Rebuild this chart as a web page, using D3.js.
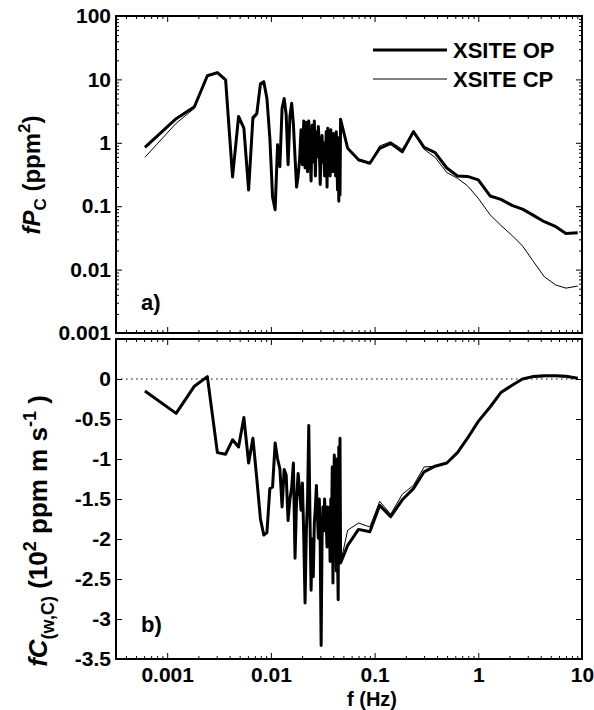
<!DOCTYPE html>
<html>
<head>
<meta charset="utf-8">
<script src="https://cdn.jsdelivr.net/npm/d3@7"></script>
<style>
  body { margin: 0; background: #fff; }
  text { font-family: "Liberation Sans", Arial, sans-serif; font-weight: bold; fill: #000; }
</style>
</head>
<body>
<script>
// frequencies (Hz): linear spectral estimates below 0.05 Hz, log bins above
var freqLow = [0.00061, 0.00122, 0.00183, 0.00244, 0.00305, 0.00366, 0.00427, 0.00488, 0.00549, 0.0061,
               0.00671, 0.00732, 0.00793, 0.00854, 0.00916, 0.00977, 0.01038, 0.01099, 0.0116, 0.01221,
               0.01282, 0.01343, 0.01404, 0.01465, 0.01526, 0.01587, 0.01648, 0.01709, 0.0177, 0.01831,
               0.01892, 0.01953, 0.02014, 0.02075, 0.02136, 0.02197, 0.02258, 0.02319, 0.0238, 0.02441,
               0.02502, 0.02563, 0.02624, 0.02686, 0.02747, 0.02808, 0.02869, 0.0293, 0.02991, 0.03052,
               0.03113, 0.03174, 0.03235, 0.03296, 0.03357, 0.03418, 0.03479, 0.0354, 0.03601, 0.03662,
               0.03723, 0.03784, 0.03845, 0.03906, 0.03967, 0.04028, 0.04089, 0.0415, 0.04211, 0.04272,
               0.04333, 0.04395, 0.04456, 0.04517, 0.04578, 0.04639, 0.047]
var freqHigh = [0.055, 0.07, 0.09, 0.112, 0.143, 0.185, 0.237, 0.30, 0.383, 0.497, 0.63,
                0.787, 1.0, 1.3, 1.65, 2.14, 2.67, 3.34, 4.33, 5.6, 7.0, 9.1]

// panel a) fPc (ppm^2)
var psdOPLow = [0.85, 2.4, 3.7, 11.4, 12.8, 9.8, 0.29, 2.6, 1.7, 0.18,
                2.5, 2.9, 8.5, 9.2, 5.0, 1.2, 0.14, 0.088, 0.93, 0.42,
                3.5, 5.0, 2.8, 0.45, 2.6, 4.2, 2.0, 0.6, 0.2, 0.3,
                0.55, 1.6, 0.45, 2.2, 0.4, 2.1, 0.35, 2.2, 0.8, 0.25,
                1.9, 0.5, 2.2, 0.3, 1.5, 0.6, 1.8, 0.9, 0.22, 0.7,
                1.3, 0.5, 1.0, 0.3, 0.45, 1.5, 0.2, 1.7, 0.4, 1.1,
                0.3, 1.6, 0.5, 1.2, 0.35, 1.4, 0.6, 0.9, 0.3, 1.5,
                0.5, 0.18, 1.2, 0.12, 0.8, 0.15, 2.35]
var psdCPLow = [0.59, 2.03, 3.5, 11.4, 12.8, 9.8, 0.29, 2.4, 1.7, 0.18,
                2.3, 2.7, 8.0, 8.8, 5.0, 1.2, 0.14, 0.088, 0.93, 0.42,
                3.5, 5.0, 2.8, 0.45, 2.6, 4.2, 2.0, 0.6, 0.2, 0.3,
                0.55, 1.6, 0.45, 2.2, 0.4, 2.1, 0.35, 2.2, 0.8, 0.25,
                1.9, 0.5, 2.2, 0.3, 1.5, 0.6, 1.8, 0.9, 0.22, 0.7,
                1.3, 0.5, 1.0, 0.3, 0.45, 1.5, 0.2, 1.7, 0.4, 1.1,
                0.3, 1.6, 0.5, 1.2, 0.35, 1.4, 0.6, 0.9, 0.3, 1.5,
                0.5, 0.18, 1.2, 0.12, 0.8, 0.15, 2.35]
var psdOPHigh = [0.82, 0.54, 0.475, 0.82, 0.98, 0.72, 1.5, 0.85, 0.70, 0.40, 0.30,
                 0.295, 0.26, 0.145, 0.128, 0.102, 0.090, 0.073, 0.057, 0.0475, 0.037, 0.038]
var psdCPHigh = [0.82, 0.52, 0.475, 0.89, 1.04, 0.79, 1.45, 0.79, 0.59, 0.34, 0.275,
                 0.21, 0.133, 0.073, 0.050, 0.034, 0.0236, 0.014, 0.0077, 0.0057, 0.0051, 0.0055]

// panel b) fC(w,C) (10^2 ppm m s-1)
var cospOPLow = [-0.15, -0.43, -0.09, 0.03, -0.92, -0.94, -0.76, -0.85, -0.48, -1.05,
                 -0.74, -1.25, -1.75, -1.95, -1.92, -1.37, -1.35, -0.80, -1.0, -1.12,
                 -1.60, -1.13, -1.20, -1.77, -1.5, -1.36, -1.05, -2.24, -1.5, -1.18,
                 -1.4, -1.64, -1.3, -1.97, -2.80, -1.9, -1.5, -0.58, -1.7, -2.64,
                 -2.0, -2.47, -1.8, -1.6, -1.33, -1.7, -1.99, -1.5, -2.1, -3.33,
                 -2.0, -1.60, -1.9, -1.5, -1.74, -1.8, -2.1, -1.6, -1.9, -1.7,
                 -2.28, -1.5, -1.9, -1.10, -2.55, -1.4, -0.95, -2.0, -1.2, -2.4,
                 -1.0, -2.2, -2.76, -0.85, -1.6, -0.74, -2.3]
var cospCPLow = [-0.15, -0.43, -0.09, 0.03, -0.92, -0.94, -0.76, -0.85, -0.48, -1.05,
                 -0.74, -1.25, -1.75, -1.95, -1.92, -1.37, -1.35, -0.80, -1.0, -1.12,
                 -1.60, -1.13, -1.20, -1.77, -1.5, -1.36, -1.05, -2.24, -1.5, -1.18,
                 -1.4, -1.64, -1.3, -1.97, -2.80, -1.9, -1.5, -0.58, -1.7, -2.64,
                 -2.0, -2.47, -1.8, -1.6, -1.33, -1.7, -1.99, -1.5, -2.1, -3.33,
                 -2.0, -1.60, -1.9, -1.5, -1.74, -1.8, -2.1, -1.6, -1.9, -1.7,
                 -2.28, -1.5, -1.9, -1.10, -2.55, -1.4, -0.95, -2.0, -1.2, -2.4,
                 -1.0, -2.2, -2.76, -0.85, -1.6, -0.74, -2.3]
var cospOPHigh = [-2.08, -1.88, -1.91, -1.58, -1.72, -1.51, -1.37, -1.16, -1.09, -1.05, -0.92,
                  -0.74, -0.53, -0.35, -0.17, -0.075, 0.0, 0.03, 0.04, 0.04, 0.035, 0.01]
var cospCPHigh = [-1.89, -1.80, -1.85, -1.53, -1.69, -1.44, -1.33, -1.10, -1.09, -1.05, -0.92,
                  -0.73, -0.52, -0.35, -0.17, -0.07, 0.0, 0.02, 0.03, 0.03, 0.025, 0.01]

var seriesNames = ["XSITE OP", "XSITE CP"]

var xTickValues = [0.001, 0.01, 0.1, 1, 10]
var xTickLabels = ["0.001", "0.01", "0.1", "1", "10"]
var yaTickValues = [0.001, 0.01, 0.1, 1, 10, 100]
var yaTickLabels = ["0.001", "0.01", "0.1", "1", "10", "100"]
var ybTickValues = [0, -0.5, -1, -1.5, -2, -2.5, -3, -3.5]
var ybTickLabels = ["0", "-0.5", "-1", "-1.5", "-2", "-2.5", "-3", "-3.5"]

var main = function() {
  var width = 594, height = 710
  var left = 116, right = 582
  var topA = 16, botA = 333, topB = 339, botB = 659

  var svg = d3.select("body").append("svg")
              .attr("width", width)
              .attr("height", height)

  var x = d3.scaleLog().domain([0.000321, 10]).range([left, right])
  var yA = d3.scaleLog().domain([0.001, 100]).range([botA, topA])
  var yB = d3.scaleLinear().domain([-3.5, 0.5]).range([botB, topB])

  var freq = freqLow.concat(freqHigh)

  // minor log ticks 2..9 per decade
  var minorX = [], minorY = []
  for (var e = -4; e <= 1; e++) {
    for (var m = 2; m <= 9; m++) {
      var v = m * Math.pow(10, e)
      if (v > 0.000321 && v < 10) minorX.push(v)
      if (v > 0.001 && v < 100) minorY.push(v)
    }
  }

  function ticks(g, axis, values, size, labels) {
    axis.tickValues(values).tickSize(-size)
        .tickFormat(function(d, i) { return labels ? labels[i] : "" })
    g.call(axis)
    g.select(".domain").remove()
    g.selectAll("line").attr("stroke", "#000")
    g.selectAll("text").style("font-size", "21px")
  }

  function panelTicks(yScale, yTop, yBot, yMajor, yMinor, yLabels) {
    ticks(svg.append("g").attr("transform", "translate(0," + yBot + ")"), d3.axisBottom(x), minorX, 3)
    ticks(svg.append("g").attr("transform", "translate(0," + yTop + ")"), d3.axisTop(x), minorX, 3)
    ticks(svg.append("g").attr("transform", "translate(0," + yBot + ")"), d3.axisBottom(x), xTickValues, 6)
    ticks(svg.append("g").attr("transform", "translate(0," + yTop + ")"), d3.axisTop(x), xTickValues, 6)
    if (yMinor) {
      ticks(svg.append("g").attr("transform", "translate(" + left + ",0)"), d3.axisLeft(yScale), yMinor, 3)
      ticks(svg.append("g").attr("transform", "translate(" + right + ",0)"), d3.axisRight(yScale), yMinor, 3)
    }
    ticks(svg.append("g").attr("transform", "translate(" + right + ",0)"), d3.axisRight(yScale), yMajor, 6)
    var gl = svg.append("g").attr("transform", "translate(" + left + ",0)")
    ticks(gl, d3.axisLeft(yScale).tickPadding(5), yMajor, 6, yLabels)
  }

  // ---------- panel a ----------
  svg.append("rect").attr("x", left).attr("y", topA)
     .attr("width", right - left).attr("height", botA - topA).attr("fill", "#fff")

  panelTicks(yA, topA, botA, yaTickValues, minorY, yaTickLabels)

  var lineA = d3.line().x(function(d) { return x(d[0]) }).y(function(d) { return yA(d[1]) })
  var opA = d3.zip(freq, psdOPLow.concat(psdOPHigh))
  var cpA = d3.zip(freq, psdCPLow.concat(psdCPHigh))

  svg.append("path").datum(opA).attr("d", lineA)
     .attr("fill", "none").attr("stroke", "#000").attr("stroke-width", 3).attr("stroke-linejoin", "round")
  svg.append("path").datum(cpA).attr("d", lineA)
     .attr("fill", "none").attr("stroke", "#000").attr("stroke-width", 1).attr("stroke-linejoin", "round")

  svg.append("rect").attr("x", left).attr("y", topA)
     .attr("width", right - left).attr("height", botA - topA)
     .attr("fill", "none").attr("stroke", "#000").attr("stroke-width", 2)

  // legend
  var legend = svg.append("g")
  legend.selectAll("line").data(seriesNames).enter().append("line")
        .attr("x1", 373).attr("x2", 447)
        .attr("y1", function(d, i) { return 50 + i * 29 })
        .attr("y2", function(d, i) { return 50 + i * 29 })
        .attr("stroke", "#000")
        .attr("stroke-width", function(d, i) { return i == 0 ? 3 : 1 })
  legend.selectAll("text").data(seriesNames).enter().append("text")
        .attr("x", 453)
        .attr("y", function(d, i) { return 58 + i * 29 })
        .style("font-size", "22px")
        .text(function(d) { return d })

  svg.append("text").attr("x", 141).attr("y", 310).style("font-size", "22px").text("a)")

  // y label a
  var la = svg.append("text").attr("transform", "translate(40,175) rotate(-90)")
              .attr("text-anchor", "middle").style("font-size", "24px")
  la.append("tspan").style("font-style", "italic").text("fP")
  la.append("tspan").attr("dy", 6).style("font-size", "17px").text("C")
  la.append("tspan").attr("dy", -6).text(" (ppm")
  la.append("tspan").attr("dy", -10).style("font-size", "17px").text("2")
  la.append("tspan").attr("dy", 10).text(")")

  // ---------- panel b ----------
  svg.append("rect").attr("x", left - 1).attr("y", topB - 1)
     .attr("width", right - left + 2).attr("height", botB - topB + 2).attr("fill", "#fff")

  // zero line
  svg.append("line").attr("x1", left).attr("x2", right)
     .attr("y1", yB(0)).attr("y2", yB(0))
     .attr("stroke", "#000").attr("stroke-width", 1).attr("stroke-dasharray", "1.5,3.5")

  panelTicks(yB, topB, botB, ybTickValues.concat([0.5]), null, ybTickLabels.concat([""]))

  // x tick labels under panel b
  var gx = svg.append("g").attr("transform", "translate(0," + botB + ")")
  ticks(gx, d3.axisBottom(x).tickPadding(8), xTickValues, 0, xTickLabels)

  var lineB = d3.line().x(function(d) { return x(d[0]) }).y(function(d) { return yB(d[1]) })
  var opB = d3.zip(freq, cospOPLow.concat(cospOPHigh))
  var cpB = d3.zip(freq, cospCPLow.concat(cospCPHigh))

  svg.append("path").datum(opB).attr("d", lineB)
     .attr("fill", "none").attr("stroke", "#000").attr("stroke-width", 3).attr("stroke-linejoin", "round")
  svg.append("path").datum(cpB).attr("d", lineB)
     .attr("fill", "none").attr("stroke", "#000").attr("stroke-width", 1).attr("stroke-linejoin", "round")

  svg.append("rect").attr("x", left).attr("y", topB)
     .attr("width", right - left).attr("height", botB - topB)
     .attr("fill", "none").attr("stroke", "#000").attr("stroke-width", 2)

  svg.append("text").attr("x", 141).attr("y", 632).style("font-size", "22px").text("b)")

  // y label b
  var lb = svg.append("text").attr("transform", "translate(47,531) rotate(-90)")
              .attr("text-anchor", "middle").style("font-size", "26px")
  lb.append("tspan").style("font-style", "italic").text("fC")
  lb.append("tspan").attr("dy", 7).style("font-size", "18px").text("(w,C)")
  lb.append("tspan").attr("dy", -7).text(" (10")
  lb.append("tspan").attr("dy", -11).style("font-size", "18px").text("2")
  lb.append("tspan").attr("dy", 11).text(" ppm m s")
  lb.append("tspan").attr("dy", -11).style("font-size", "18px").text("-1")
  lb.append("tspan").attr("dy", 11).text(" )")

  // x label
  svg.append("text").attr("x", 372).attr("y", 706).attr("text-anchor", "middle")
     .style("font-size", "20px").text("f (Hz)")
}

main()
</script>
</body>
</html>
